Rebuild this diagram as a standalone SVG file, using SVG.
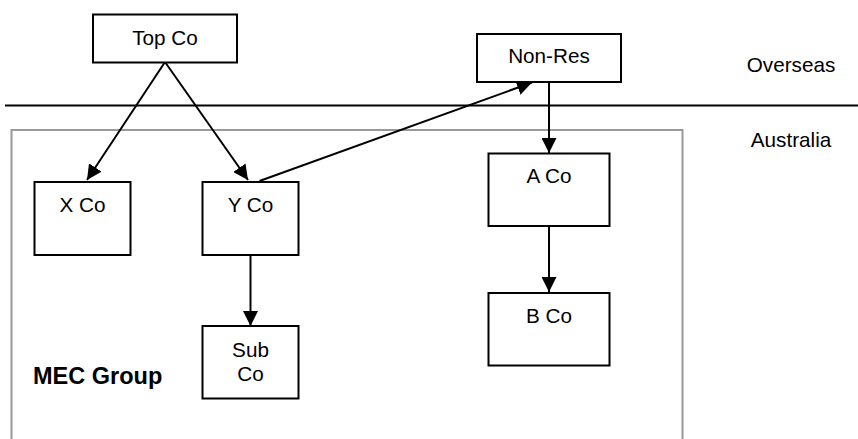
<svg xmlns="http://www.w3.org/2000/svg" width="858" height="439" viewBox="0 0 858 439">
<style>
.box{fill:#fff;stroke:#000;stroke-width:2}
.t{font-family:"Liberation Sans",Arial,sans-serif;font-size:20.7px;fill:#000;text-anchor:middle}
.b{font-family:"Liberation Sans",Arial,sans-serif;font-size:23.5px;font-weight:bold;fill:#000}
.c{stroke:#000;stroke-width:2;fill:none}
</style>
<defs>
<marker id="ah" markerUnits="userSpaceOnUse" markerWidth="15" markerHeight="15" refX="14" refY="7" orient="auto" viewBox="0 0 14 14">
<path d="M0,0 L14,7 L0,14 z" fill="#000"/>
</marker>
</defs>
<rect width="858" height="439" fill="#fff"/>
<g id="region">
<rect x="11.5" y="130" width="671" height="320" fill="none" stroke="#999" stroke-width="2"/>
<line x1="5" y1="105.5" x2="858" y2="105.5" stroke="#000" stroke-width="2"/>
<text class="t" x="791" y="72.3">Overseas</text>
<text class="t" x="791" y="147.3">Australia</text>
<text class="b" x="33" y="384">MEC Group</text>
</g>
<g id="connectors">
<line class="c" x1="165" y1="62" x2="87" y2="180" marker-end="url(#ah)"/>
<line class="c" x1="165" y1="62" x2="248" y2="180" marker-end="url(#ah)"/>
<line class="c" x1="259.5" y1="181" x2="532" y2="82.5" marker-end="url(#ah)"/>
<line class="c" x1="549" y1="82" x2="549" y2="153" marker-end="url(#ah)"/>
<line class="c" x1="549" y1="226" x2="549" y2="292" marker-end="url(#ah)"/>
<line class="c" x1="250.5" y1="255" x2="250.5" y2="326" marker-end="url(#ah)"/>
</g>
<g id="topco"><rect class="box" x="93" y="14.5" width="144" height="48"/><text class="t" x="165" y="45">Top Co</text></g>
<g id="nonres"><rect class="box" x="477" y="34" width="144" height="48"/><text class="t" x="549" y="63">Non-Res</text></g>
<g id="xco"><rect class="box" x="34.5" y="182" width="96" height="73"/><text class="t" x="82.5" y="212">X Co</text></g>
<g id="yco"><rect class="box" x="202.5" y="182" width="96" height="73"/><text class="t" x="250.5" y="212">Y Co</text></g>
<g id="aco"><rect class="box" x="488.5" y="153.5" width="121" height="72.5"/><text class="t" x="549" y="183.3">A Co</text></g>
<g id="bco"><rect class="box" x="488.5" y="293" width="121" height="72.5"/><text class="t" x="549" y="323.3">B Co</text></g>
<g id="subco"><rect class="box" x="202.5" y="326" width="96" height="72.5"/><text class="t" x="250.5" y="356.7">Sub</text><text class="t" x="250.5" y="380.7">Co</text></g>
</svg>
